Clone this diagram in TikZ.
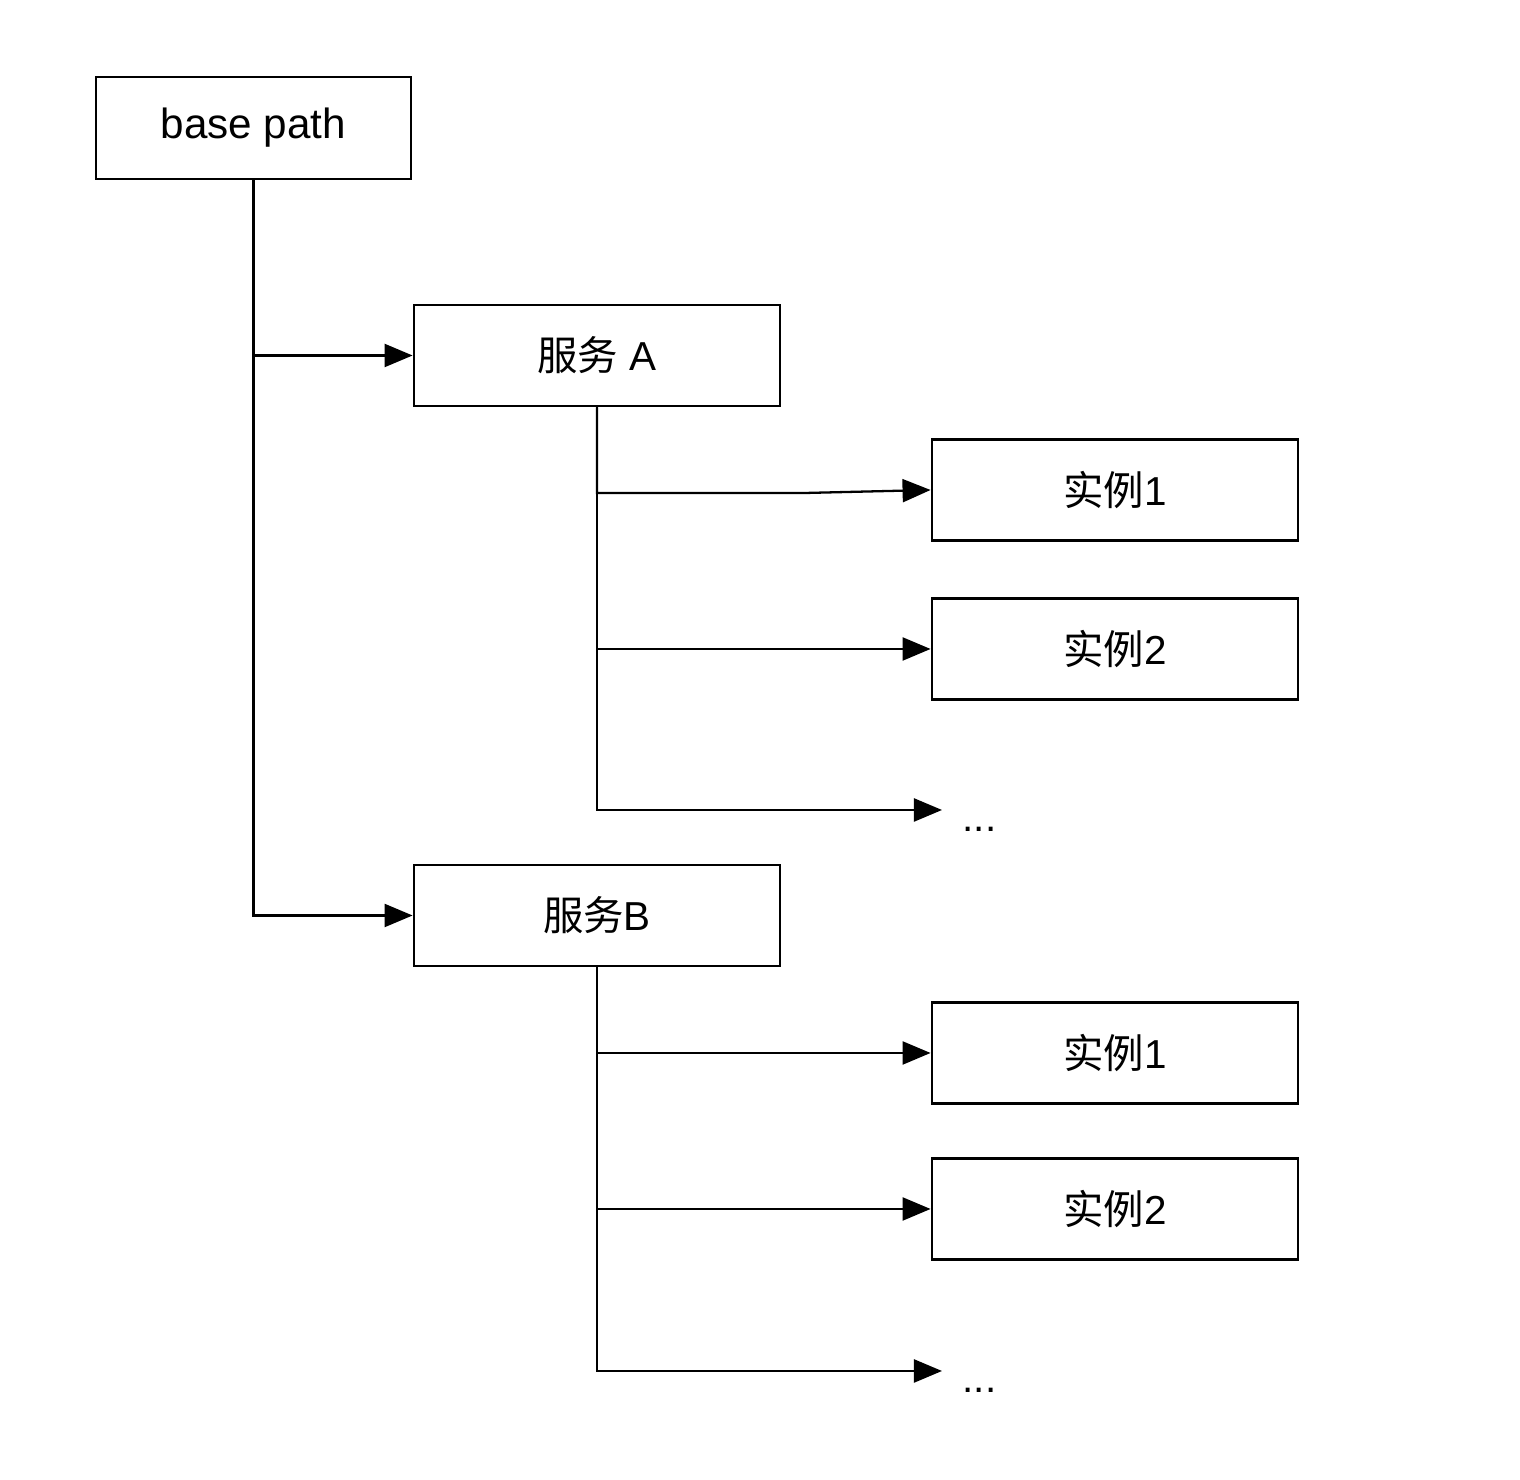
\documentclass[tikz,border=0pt]{standalone}
\usepackage{fontspec}
\setmainfont{Liberation Sans}
\newfontfamily\cjk{Noto Sans CJK SC}
\usetikzlibrary{arrows.meta}

\newcommand{\boxThick}{0.75pt}
\newcommand{\linThick}{0.65pt}
\newcommand{\svcX}{597}
\newcommand{\instX}{1115}

\tikzset{
  box/.style={draw=black, line width=\boxThick, minimum width=3.66cm, minimum height=1.01cm,
              inner sep=0pt, font=\fontsize{11.5}{14}\selectfont},
  dots/.style={anchor=west, inner sep=0.2cm, text height=1.2em, text depth=0pt,
               font=\fontsize{11.5}{14}\selectfont},
  link/.style={line width=\linThick, black, -{Triangle[length=0.28cm, width=0.23cm]}},
}

\begin{document}
\begin{tikzpicture}[x=0.01cm, y=-0.01cm]

  \useasboundingbox (0,0) rectangle (1520,1480);

  % Boxes:
  \node[box, minimum width=3.15cm, minimum height=1.02cm, font=\fontsize{12}{14}\selectfont] (base) at (253.5,128) {base path};
  \node[box] (svcA) at (\svcX,355.5) {{\cjk 服务} A};
  \node[box] (svcB) at (\svcX,915.5) {{\cjk 服务}B};

  \node[box] (instA1) at (\instX,490)  {{\cjk 实例}1};
  \node[box] (instA2) at (\instX,649)  {{\cjk 实例}2};
  \node[dots] (dotsA) at (942,810) {...};

  \node[box] (instB1) at (\instX,1053) {{\cjk 实例}1};
  \node[box] (instB2) at (\instX,1209) {{\cjk 实例}2};
  \node[dots] (dotsB) at (942,1371) {...};

  % Trunk to services:
  \draw[link] (base.south) |- (svcA.west);
  \draw[link] (base.south) |- (svcB.west);

  % Service A to instances:
  \coordinate (kinkA) at (805,493);
  \draw[link] (svcA.south) |- (kinkA) -- (instA1.west);
  \draw[link] (svcA.south) |- (instA2.west);
  \draw[link] (svcA.south) |- (dotsA.west);

  % Service B to instances:
  \draw[link] (svcB.south) |- (instB1.west);
  \draw[link] (svcB.south) |- (instB2.west);
  \draw[link] (svcB.south) |- (dotsB.west);

\end{tikzpicture}
\end{document}
